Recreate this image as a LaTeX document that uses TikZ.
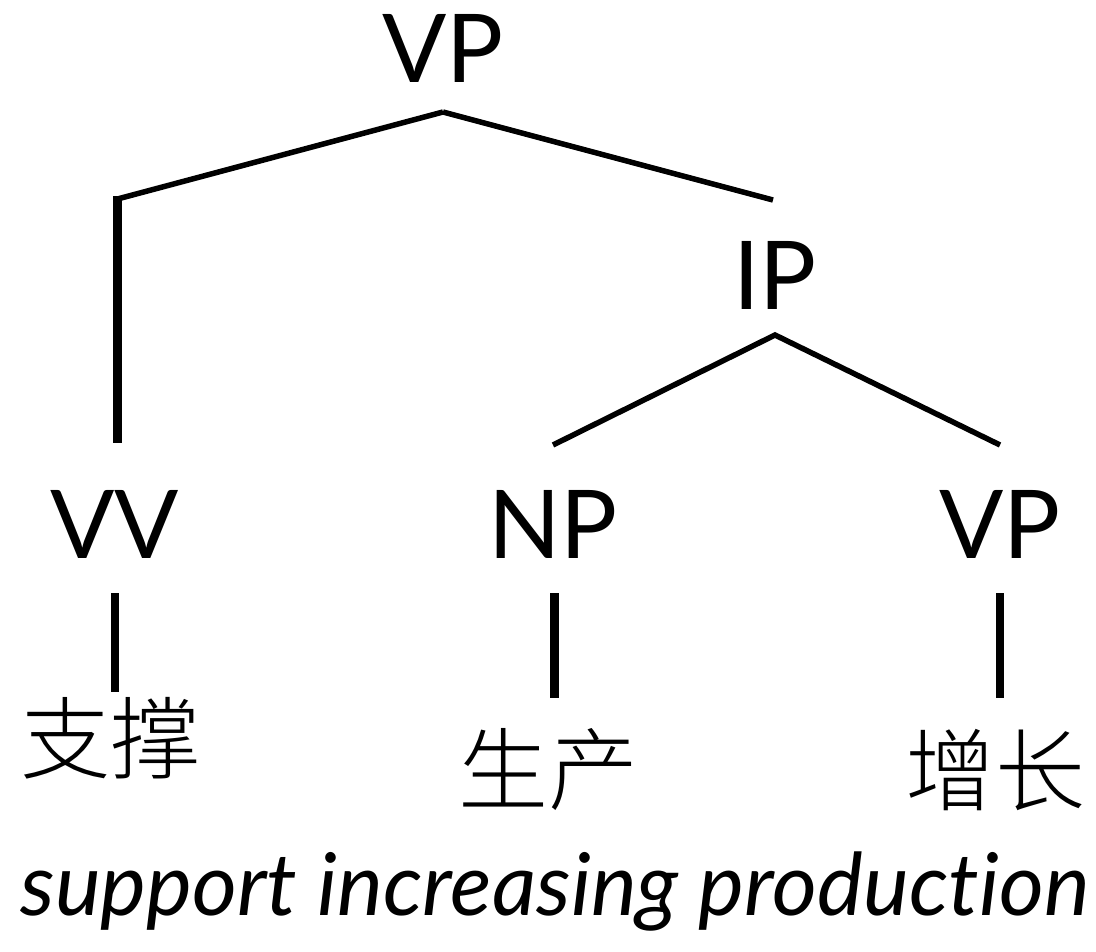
\documentclass[tikz,border=0pt]{standalone}
\usepackage{fontspec}
\setmainfont{Lato}[Ligatures=NoCommon]
\newfontfamily\cjk{Noto Sans CJK SC Light}
\begin{document}
\begin{tikzpicture}[x=1pt,y=-1pt,
  lab/.style={inner sep=0pt,anchor=base,font=\fontsize{95}{95}\selectfont},
  han/.style={inner sep=0pt,anchor=center,font=\cjk\fontsize{90}{90}\selectfont},
  gloss/.style={inner sep=0pt,anchor=base,font=\itshape\fontsize{86.5}{86.5}\selectfont},
  edge/.style={line width=5.5pt,line cap=butt},
  stem/.style={line width=8.5pt,line cap=butt}]
\useasboundingbox (0,0) rectangle (1096,952);
\fill[white] (0,0) rectangle (1096,952);
\node[lab] (vp) at (443,83) {VP};
\node[lab] (ip) at (775,310) {IP};
\node[lab] (vv) at (115,558) {VV};
\node[lab] (np) at (553,558) {NP};
\node[lab] (vp2) at (1000,558) {VP};
\node[han] (w1) at (110,738) {支撑};
\node[han] (w2) at (548,770) {生产};
\node[han] (w3) at (995,770) {增长};
\node[gloss] (gl) at (555,915) {support increasing production};
\coordinate (vpa) at (443,112);
\coordinate (vvc) at (117.5,199);
\coordinate (vvt) at (117.5,196);
\coordinate (vve) at (117.5,443);
\coordinate (ipe) at (773,200);
\coordinate (ipa) at (775,335);
\coordinate (npe) at (553,445);
\coordinate (vp2e) at (1000,445);
\coordinate (vvb1) at (115,593);
\coordinate (vvb2) at (115,692);
\coordinate (npb1) at (554.5,593);
\coordinate (npb2) at (554.5,698);
\coordinate (vpb1) at (1000,593);
\coordinate (vpb2) at (1000,698);
\draw[edge] (vpa) -- (vvc);
\draw[stem] (vvt) -- (vve);
\draw[edge] (vpa) -- (ipe);
\draw[edge] (npe) -- (ipa) -- (vp2e);
\draw[stem] (vvb1) -- (vvb2);
\draw[stem] (npb1) -- (npb2);
\draw[stem] (vpb1) -- (vpb2);
\end{tikzpicture}
\end{document}
